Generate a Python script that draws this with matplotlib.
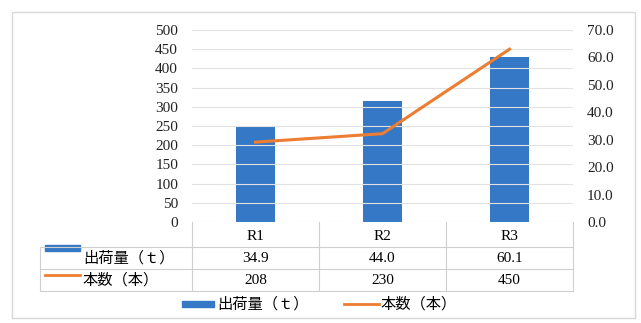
import matplotlib.pyplot as plt
from matplotlib.lines import Line2D
from matplotlib.patches import Rectangle

plt.rcParams['font.family'] = ['Liberation Serif', 'Noto Sans CJK JP']

categories = ["R1", "R2", "R3"]
shipment = [34.9, 44.0, 60.1]      # 出荷量（ｔ） right axis
count = [208, 230, 450]            # 本数（本） left axis
bar_label = "出荷量（ｔ）"
line_label = "本数（本）"
left_ticks = list(range(0, 501, 50))
right_ticks = [0, 10, 20, 30, 40, 50, 60, 70]

BLUE = "#3478c6"
ORANGE = "#ed7d31"
W, H = 641, 323


def fx(px):
    return px / W


def fy(py):
    return 1 - py / H


fig = plt.figure(figsize=(6.41, 3.23), dpi=100)
ax = fig.add_axes([fx(192), fy(222), fx(573) - fx(192), fy(30) - fy(222)])
ax2 = ax.twinx()

x = range(len(categories))
ax2.bar(x, shipment, width=0.31, color=BLUE, zorder=2)
ax.plot(x, count, color=ORANGE, lw=2.2, zorder=5)
ax.set_zorder(ax2.get_zorder() + 1)
ax.patch.set_visible(False)

ax.set_xlim(-0.5, 2.5)
ax.set_ylim(0, 500)
ax2.set_ylim(0, 70)
ax.set_yticks(left_ticks)
ax.set_yticklabels([str(t) for t in left_ticks])
ax2.set_yticks(right_ticks)
ax2.set_yticklabels([f"{t:.1f}" for t in right_ticks])
ax.set_xticks([])
for a in (ax, ax2):
    a.tick_params(length=0, labelsize=11, colors="#222222")
    for s in a.spines.values():
        s.set_visible(False)
ax.tick_params(axis="y", pad=10)
ax2.tick_params(axis="y", pad=10)
for t in left_ticks:
    ax.axhline(t, color="#e2e2e2", lw=0.8, zorder=0)

# outer frame
fig.patches.append(Rectangle((fx(12), fy(318)), fx(635) - fx(12), fy(12) - fy(318),
                             transform=fig.transFigure, fill=False,
                             edgecolor="#d8d8d8", lw=1))

# data table
gcol = "#cfcfcf"
vx = [192, 319, 446, 573]
for v in vx:
    fig.add_artist(Line2D([fx(v), fx(v)], [fy(222), fy(291)], color=gcol, lw=0.8))
for hy in [247, 269, 291]:
    fig.add_artist(Line2D([fx(40), fx(573)], [fy(hy), fy(hy)], color=gcol, lw=0.8))
fig.add_artist(Line2D([fx(40), fx(40)], [fy(247), fy(291)], color=gcol, lw=0.8))

centers = [(vx[i] + vx[i + 1]) / 2 for i in range(3)]
for i, c in enumerate(categories):
    fig.text(fx(centers[i]), fy(236), c, ha="center", va="center", fontsize=11)
    fig.text(fx(centers[i]), fy(258), f"{shipment[i]:.1f}", ha="center", va="center", fontsize=11)
    fig.text(fx(centers[i]), fy(280), str(count[i]), ha="center", va="center", fontsize=11)

fig.patches.append(Rectangle((fx(45), fy(251)), fx(80) - fx(45), fy(245) - fy(251),
                             transform=fig.transFigure, color=BLUE))
fig.text(fx(83), fy(258), bar_label, ha="left", va="center", fontsize=11)
fig.add_artist(Line2D([fx(45), fx(80)], [fy(275), fy(275)], color=ORANGE, lw=2))
fig.text(fx(83), fy(280), line_label, ha="left", va="center", fontsize=11)

# bottom legend
fig.patches.append(Rectangle((fx(182), fy(307)), fx(214) - fx(182), fy(301) - fy(307),
                             transform=fig.transFigure, color=BLUE))
fig.text(fx(217), fy(304), bar_label, ha="left", va="center", fontsize=11)
fig.add_artist(Line2D([fx(344), fx(379)], [fy(304), fy(304)], color=ORANGE, lw=2))
fig.text(fx(381), fy(304), line_label, ha="left", va="center", fontsize=11)

fig.savefig("out.png", dpi=100)
